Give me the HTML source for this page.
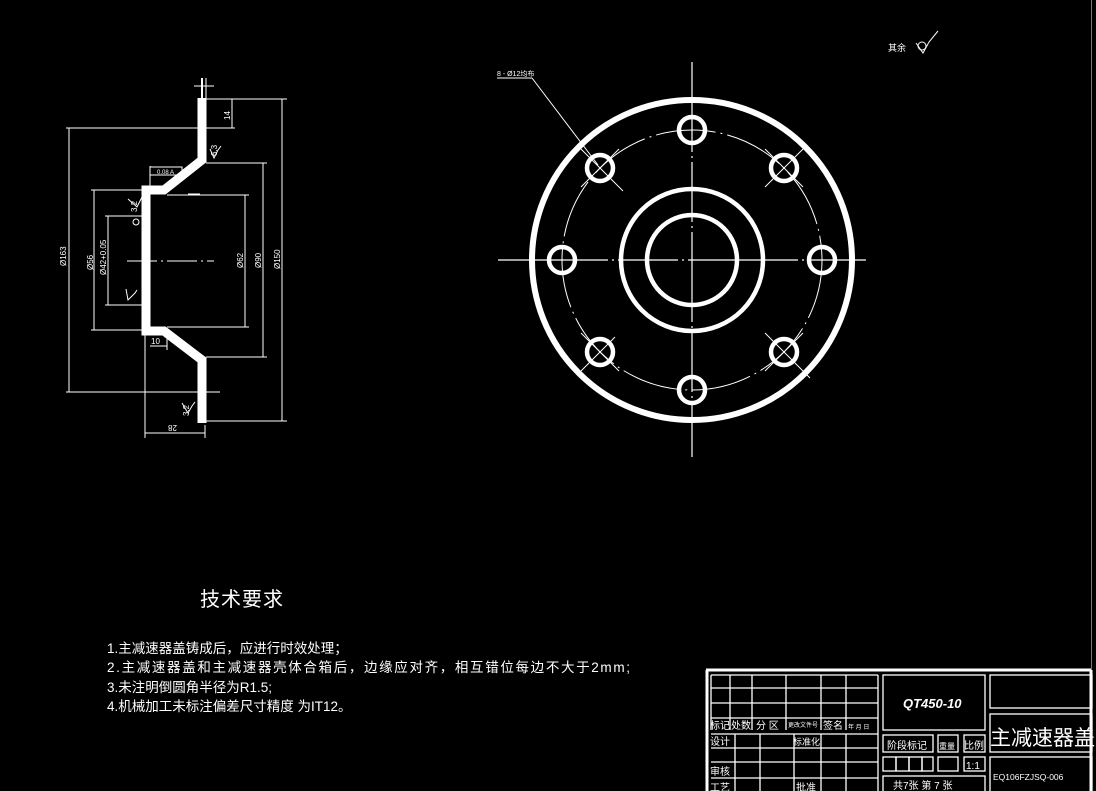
<!DOCTYPE html>
<html><head><meta charset="utf-8"><style>
html,body{margin:0;padding:0;background:#000;}
svg{display:block}
text{font-family:"Liberation Sans","Noto Sans CJK SC",sans-serif;fill:#fff}
</style></head><body>
<svg width="1096" height="791" viewBox="0 0 1096 791" xmlns="http://www.w3.org/2000/svg">
<rect width="1096" height="791" fill="#000"/>
<line x1="1091.5" y1="0" x2="1091.5" y2="670" stroke="#777" stroke-width="1"/>

<!-- Left section view -->
<g stroke="#fff" fill="none">
  <polyline points="202,98 202,160 164,190 146,190 146,331 164,331 202,360 202,423" stroke-width="9" stroke-linejoin="miter"/>
  <line x1="202" y1="78" x2="202" y2="98" stroke-width="2"/>
  <line x1="206" y1="78" x2="206" y2="98" stroke-width="1"/>
  <line x1="194" y1="86" x2="214" y2="86" stroke-width="1"/>
  <g stroke-width="1">
    <line x1="69" y1="128" x2="69" y2="392"/>
    <line x1="66" y1="128" x2="235" y2="128"/>
    <line x1="66" y1="392" x2="220" y2="392"/>
    <line x1="282" y1="99" x2="282" y2="421"/>
    <line x1="206" y1="99" x2="287" y2="99"/>
    <line x1="206" y1="421" x2="287" y2="421"/>
    <line x1="263" y1="163" x2="263" y2="357"/>
    <line x1="206" y1="163" x2="267" y2="163"/>
    <line x1="206" y1="357" x2="267" y2="357"/>
    <line x1="245" y1="195" x2="245" y2="327"/>
    <line x1="167" y1="195" x2="249" y2="195"/>
    <line x1="167" y1="327" x2="249" y2="327"/>
    <line x1="94" y1="190" x2="94" y2="330"/>
    <line x1="91" y1="190" x2="142" y2="190"/>
    <line x1="91" y1="330" x2="142" y2="330"/>
    <line x1="108" y1="216" x2="108" y2="305"/>
    <line x1="105" y1="216" x2="142" y2="216"/>
    <line x1="105" y1="305" x2="142" y2="305"/>
    <line x1="232" y1="99" x2="232" y2="128"/>
    <line x1="145" y1="433" x2="205" y2="433"/>
    <line x1="145" y1="335" x2="145" y2="438"/>
    <line x1="205" y1="425" x2="205" y2="438"/>
    <line x1="150" y1="346" x2="167" y2="346"/>
    <line x1="167" y1="335" x2="167" y2="350"/>
    <line x1="127" y1="261" x2="214" y2="261" stroke-dasharray="30,4,2,4"/>
    <line x1="150" y1="166" x2="150" y2="190"/>
    <rect x="150" y="167" width="32" height="8"/>
    <line x1="188" y1="194" x2="200" y2="194"/>
    <polyline points="128,199 137,207 140,201 142,197"/>
    <polyline points="126,289 128,300 135,293 137,290"/>
    <polyline points="210,149 214,158 218,150 221,146"/>
    <polyline points="182,403 188,413 192,406 195,402"/>
  </g>
  <circle cx="136" cy="222" r="3" stroke-width="1"/>
</g>
<g font-size="8" fill="#fff">
  <text x="0" y="0" transform="translate(66,266) rotate(-90)">Ø163</text>
  <text x="0" y="0" transform="translate(93,270) rotate(-90)">Ø56</text>
  <text x="0" y="0" transform="translate(106,275) rotate(-90)">Ø42+0.05</text>
  <text x="0" y="0" transform="translate(243,268) rotate(-90)">Ø62</text>
  <text x="0" y="0" transform="translate(261,268) rotate(-90)">Ø90</text>
  <text x="0" y="0" transform="translate(280,269) rotate(-90)">Ø150</text>
  <text x="0" y="0" transform="translate(230,120) rotate(-90)">14</text>
  <text x="0" y="0" transform="translate(177,425) rotate(180)">28</text>
  <text x="151" y="344">10</text>
  <text x="157" y="174" font-size="6">0.08 A</text>
  <text x="0" y="0" transform="translate(137,212) rotate(-90)">3.2</text>
  <text x="0" y="0" transform="translate(217,156) rotate(-90)">6.3</text>
  <text x="0" y="0" transform="translate(189,416) rotate(-90)">3.2</text>
</g>

<!-- Right front view -->
<g stroke="#fff" fill="none">
  <line x1="498" y1="260" x2="866" y2="260" stroke-width="1.2" stroke-dasharray="110,4,2,4,60,4,2,4"/>
  <line x1="692" y1="62" x2="692" y2="457" stroke-width="1.2" stroke-dasharray="90,4,2,4,60,4,2,4"/>
  <circle cx="692" cy="260" r="160" stroke-width="6"/>
  <circle cx="692" cy="260" r="71" stroke-width="4.5"/>
  <circle cx="692" cy="260" r="45" stroke-width="4.5"/>
  <circle cx="692" cy="260" r="130" stroke-width="1" stroke-dasharray="60,5,2,5"/>
  <g stroke-width="4.5">
    <circle cx="822" cy="260" r="13"/><circle cx="562" cy="260" r="13"/>
    <circle cx="692" cy="130" r="13"/><circle cx="692" cy="390" r="13"/>
    <circle cx="784" cy="168" r="13"/><circle cx="600" cy="168" r="13"/>
    <circle cx="784" cy="352" r="13"/><circle cx="600" cy="352" r="13"/>
  </g>
  <g stroke-width="1">
    <line x1="765" y1="149" x2="803" y2="187"/><line x1="765" y1="187" x2="803" y2="149"/>
    <line x1="581" y1="149" x2="623" y2="191"/><line x1="581" y1="187" x2="619" y2="149"/>
    <line x1="765" y1="333" x2="810" y2="378"/><line x1="765" y1="371" x2="803" y2="333"/>
    <line x1="581" y1="371" x2="615" y2="337"/><line x1="581" y1="333" x2="619" y2="371"/>
    <line x1="497" y1="78" x2="532" y2="78"/>
    <line x1="532" y1="78" x2="598" y2="165"/>
  </g>
</g>
<text x="497" y="76" font-size="7">8 - Ø12均布</text>
<text x="888" y="51" font-size="9">其余</text>
<g stroke="#fff" fill="none" stroke-width="1">
  <circle cx="922" cy="46" r="4"/>
  <polyline points="916,43 923,53 929,42 938,31"/>
</g>

<!-- Tech requirements -->
<text x="200" y="606" font-size="20" letter-spacing="1">技术要求</text>
<g font-size="13.5">
  <text x="107" y="653">1.主减速器盖铸成后，应进行时效处理；</text>
  <text x="107" y="672" textLength="523">2.主减速器盖和主减速器壳体合箱后，边缘应对齐，相互错位每边不大于2mm;</text>
  <text x="107" y="692">3.未注明倒圆角半径为R1.5;</text>
  <text x="107" y="711">4.机械加工未标注偏差尺寸精度 为IT12。</text>
</g>

<!-- Title block -->
<g stroke="#fff" fill="none">
  <line x1="706" y1="670" x2="1091" y2="670" stroke-width="3"/>
  <line x1="707" y1="670" x2="707" y2="791" stroke-width="3"/>
  <g stroke-width="1.3">
    <line x1="711" y1="675" x2="878" y2="675"/>
    <line x1="711" y1="688" x2="878" y2="688"/>
    <line x1="711" y1="703" x2="878" y2="703"/>
    <line x1="711" y1="718" x2="878" y2="718"/>
    <line x1="711" y1="734" x2="878" y2="734"/>
    <line x1="711" y1="748" x2="878" y2="748"/>
    <line x1="711" y1="762" x2="878" y2="762"/>
    <line x1="711" y1="778" x2="878" y2="778"/>
    <line x1="711" y1="675" x2="711" y2="730"/>
    <line x1="730" y1="675" x2="730" y2="730"/>
    <line x1="752" y1="675" x2="752" y2="730"/>
    <line x1="786" y1="675" x2="786" y2="730"/>
    <line x1="821" y1="675" x2="821" y2="730"/>
    <line x1="846" y1="675" x2="846" y2="730"/>
    <line x1="878" y1="675" x2="878" y2="791"/>
    <line x1="735" y1="734" x2="735" y2="791"/>
    <line x1="760" y1="734" x2="760" y2="791"/>
    <line x1="794" y1="734" x2="794" y2="791"/>
    <line x1="821" y1="734" x2="821" y2="791"/>
    <line x1="846" y1="734" x2="846" y2="791"/>
    <rect x="883" y="675" width="102" height="55"/>
    <rect x="883" y="735" width="50" height="17"/>
    <rect x="938" y="735" width="20" height="17"/>
    <rect x="964" y="735" width="21" height="17"/>
    <rect x="883" y="757" width="13" height="14"/>
    <rect x="896" y="757" width="13" height="14"/>
    <rect x="909" y="757" width="13" height="14"/>
    <rect x="922" y="757" width="11" height="14"/>
    <rect x="938" y="757" width="20" height="14"/>
    <rect x="964" y="757" width="21" height="14"/>
    <rect x="883" y="776" width="102" height="20"/>
    <rect x="990" y="675" width="102" height="33"/>
    <rect x="990" y="714" width="102" height="38"/>
    <rect x="990" y="757" width="102" height="40"/>
  </g>
  <line x1="1091" y1="670" x2="1091" y2="791" stroke-width="3"/>
</g>
<g font-size="10">
  <text x="710" y="729">标记</text><text x="731" y="729">处数</text>
  <text x="756" y="729">分 区</text><text x="788" y="727" font-size="6">更改文件号</text>
  <text x="823" y="729">签名</text><text x="848" y="729" font-size="6">年 月 日</text>
  <text x="710" y="745">设计</text><text x="793" y="745" font-size="9">标准化</text>
  <text x="710" y="775">审核</text><text x="710" y="791">工艺</text>
  <text x="796" y="791">批准</text>
  <text x="887" y="749">阶段标记</text>
  <text x="939" y="749" font-size="8">重量</text>
  <text x="964" y="749">比例</text>
  <text x="966" y="769">1:1</text>
  <text x="893" y="789">共7张  第  7  张</text>
  <text x="993" y="780" font-size="8.5" font-family="Liberation Serif,serif">EQ106FZJSQ-006</text>
</g>
<text x="903" y="708" font-size="13" font-style="italic" font-weight="bold">QT450-10</text>
<text x="990" y="745" font-size="21">主减速器盖</text>
</svg>
</body></html>
